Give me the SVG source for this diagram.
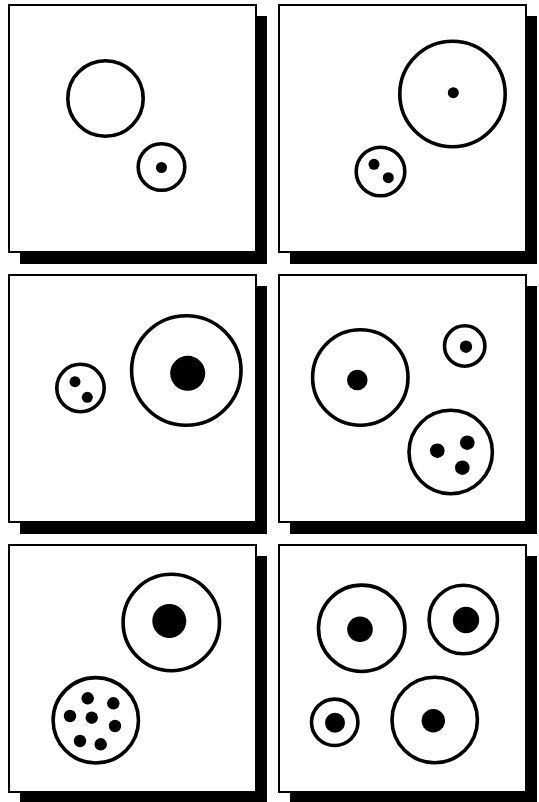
<svg xmlns="http://www.w3.org/2000/svg" width="539" height="802" viewBox="0 0 539 802">
<defs>
<style>
.sh{fill:#000}
.fr{fill:#fff;stroke:#000;stroke-width:2}
.c{fill:#fff;stroke:#000;stroke-width:3.6}
.d{fill:#000}
</style>
<g id="panel">
<rect class="sh" x="11" y="11" width="247" height="248"/>
<rect class="fr" x="0" y="0" width="247" height="247"/>
</g>
</defs>
<rect width="539" height="802" fill="#fff"/>
<g id="p1" transform="translate(9,5)"><use href="#panel"/></g>
<g id="p2" transform="translate(279,5)"><use href="#panel"/></g>
<g id="p3" transform="translate(9,275)"><use href="#panel"/></g>
<g id="p4" transform="translate(279,275)"><use href="#panel"/></g>
<g id="p5" transform="translate(9,545)"><use href="#panel"/></g>
<g id="p6" transform="translate(279,545)"><use href="#panel"/></g>

<g id="cells1">
<circle class="c" cx="105.5" cy="98.5" r="37.7"/>
<circle class="c" cx="161.5" cy="167" r="23.3"/>
<circle class="d" cx="161.5" cy="167.5" r="5.5"/>
</g>
<g id="cells2">
<circle class="c" cx="452.5" cy="94" r="52.7"/>
<circle class="d" cx="453.3" cy="92.7" r="5.5"/>
<circle class="c" cx="380.5" cy="171.5" r="24.3"/>
<circle class="d" cx="374" cy="164.3" r="5.5"/>
<circle class="d" cx="388.3" cy="177.7" r="5.5"/>
</g>
<g id="cells3">
<circle class="c" cx="80.5" cy="388" r="23.7"/>
<circle class="d" cx="75" cy="381.7" r="5.5"/>
<circle class="d" cx="87.3" cy="397.3" r="5.5"/>
<circle class="c" cx="186.3" cy="370.5" r="54.7"/>
<circle class="d" cx="187.7" cy="373.3" r="17.5"/>
</g>
<g id="cells4">
<circle class="c" cx="360.3" cy="377.5" r="47.7"/>
<circle class="d" cx="357.3" cy="380" r="10.3"/>
<circle class="c" cx="464.7" cy="346" r="20.2"/>
<circle class="d" cx="466" cy="346.7" r="6.2"/>
<circle class="c" cx="450.7" cy="452" r="41.7"/>
<circle class="d" cx="437.3" cy="450.7" r="7.3"/>
<circle class="d" cx="467.3" cy="442.7" r="7.3"/>
<circle class="d" cx="462.3" cy="467.7" r="7.3"/>
</g>
<g id="cells5">
<circle class="c" cx="171.3" cy="622.5" r="48.2"/>
<circle class="d" cx="169.3" cy="621" r="17"/>
<circle class="c" cx="95.8" cy="720.3" r="42.7"/>
<circle class="d" cx="87.7" cy="698.3" r="6.2"/>
<circle class="d" cx="113.3" cy="703.3" r="6.2"/>
<circle class="d" cx="70" cy="716" r="6.2"/>
<circle class="d" cx="91.7" cy="717.7" r="6.2"/>
<circle class="d" cx="115" cy="726" r="6.2"/>
<circle class="d" cx="80" cy="741" r="6.2"/>
<circle class="d" cx="100.7" cy="744.3" r="6.2"/>
</g>
<g id="cells6">
<circle class="c" cx="361.7" cy="628.3" r="43.2"/>
<circle class="d" cx="360" cy="629.3" r="12.8"/>
<circle class="c" cx="463.3" cy="619.5" r="34.2"/>
<circle class="d" cx="466" cy="620" r="13.2"/>
<circle class="c" cx="334.7" cy="722.3" r="23.2"/>
<circle class="d" cx="335" cy="722.7" r="10"/>
<circle class="c" cx="434.7" cy="720" r="42.7"/>
<circle class="d" cx="433.3" cy="720.7" r="11.7"/>
</g>
<g id="connectors"/>
</svg>
